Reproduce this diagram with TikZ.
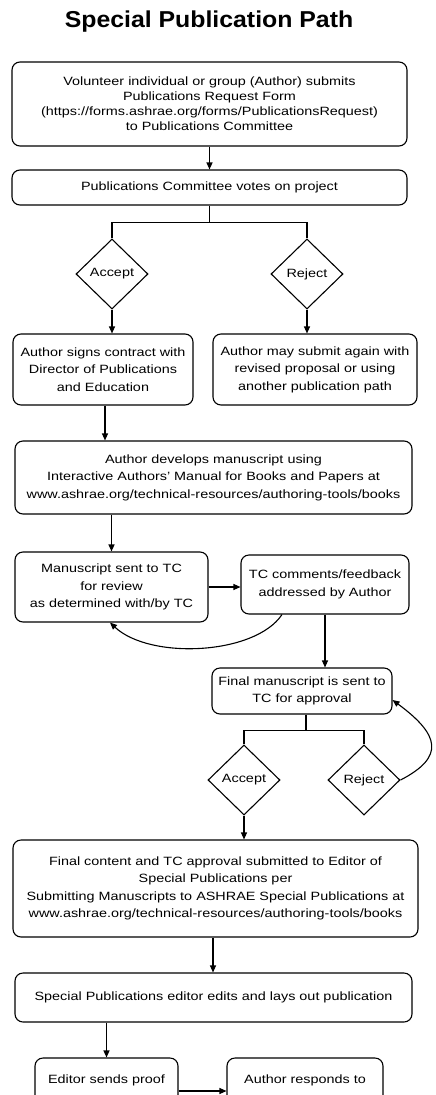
\documentclass[tikz,border=0pt]{standalone}
\usepackage{fontspec}
\setmainfont{Liberation Sans}[FakeStretch=1.2]
\newfontfamily\titlefont{Liberation Sans}[FakeStretch=1.08]
\usetikzlibrary{shapes.geometric,arrows.meta,calc}
\begin{document}
\begin{tikzpicture}[x=1pt,y=-1pt,
 box/.style={draw,rounded corners=8pt,line width=1.1pt,align=center,font=\fontsize{12}{17.5}\selectfont,inner sep=0pt},
 dec/.style={draw,diamond,line width=1.1pt,inner sep=0pt,font=\fontsize{12}{14}\selectfont,minimum width=72pt,minimum height=70pt},
 arr/.style={line width=1.1pt,-{Triangle[length=7pt,width=6pt]}},
 ln/.style={line width=1.1pt}]
\useasboundingbox (0,0) rectangle (436,1095);
\clip (0,0) rectangle (436,1095);
\fill[white] (0,0) rectangle (436,1095);
\node[font=\titlefont\bfseries\fontsize{23}{26}\selectfont] (title) at (209,22) {Special Publication Path};
\node[box,font=\fontsize{12}{15}\selectfont,minimum width=395pt,minimum height=84pt] (b1) at (209.5,104) {Volunteer individual or group (Author) submits\\Publications Request Form\\(https://forms.ashrae.org/forms/PublicationsRequest)\\to Publications Committee};
\node[box,minimum width=395pt,minimum height=35pt] (b2) at (209.5,187.5) {Publications Committee votes on project};
\node[dec] (dA1) at (112,274) {Accept};
\node[dec] (dR1) at (307,274) {Reject};
\node[box,minimum width=180pt,minimum height=71pt] (bL) at (103,369.5) {Author signs contract with\\Director of Publications\\and Education};
\node[box,minimum width=204pt,minimum height=71pt] (bR) at (315,369.5) {Author may submit again with\\revised proposal or using\\another publication path};
\node[box,minimum width=397pt,minimum height=73pt] (bDev) at (213.5,477.5) {Author develops manuscript using\\Interactive Authors' Manual for Books and Papers at\\www.ashrae.org/technical-resources/authoring-tools/books};
\node[box,minimum width=193pt,minimum height=70pt] (bMan) at (111.5,587) {Manuscript sent to TC\\for review\\as determined with/by TC};
\node[box,minimum width=168pt,minimum height=59pt] (bTC) at (325,584.5) {TC comments/feedback\\addressed by Author};
\node[box,minimum width=180pt,minimum height=46pt] (bFin) at (302,691) {Final manuscript is sent to\\TC for approval};
\node[dec] (dA2) at (244,780) {Accept};
\node[dec] (dR2) at (364,780) {Reject};
\node[box,minimum width=405pt,minimum height=97pt] (bFC) at (215.5,888.5) {Final content and TC approval submitted to Editor of\\Special Publications per\\Submitting Manuscripts to ASHRAE Special Publications at\\www.ashrae.org/technical-resources/authoring-tools/books};
\node[box,minimum width=397pt,minimum height=49pt] (bSP) at (213.5,997.5) {Special Publications editor edits and lays out publication};
\node[box,minimum width=143pt,minimum height=80pt] (bEd) at (106.5,1098) {};
\node[font=\fontsize{12}{17.5}\selectfont] (tEd) at (106.5,1080) {Editor sends proof};
\node[box,minimum width=156pt,minimum height=80pt] (bAu) at (305,1098) {};
\node[font=\fontsize{12}{17.5}\selectfont] (tAu) at (305,1080) {Author responds to};
% connectors
\draw[arr] (b1.south) -- (b2.north);
\draw[ln] (b2.south) -- ++(0,17) coordinate (j1);
\draw[ln] (dA1.north) |- (j1) -| (dR1.north);
\draw[arr] (dA1.south) -- (dA1.south |- bL.north);
\draw[arr] (dR1.south) -- (dR1.south |- bR.north);
\draw[arr] ([xshift=2pt]bL.south) -- ([xshift=2pt]bL.south |- bDev.north);
\draw[arr] (bMan.north |- bDev.south) -- (bMan.north);
\draw[arr] (bMan.east) -- (bMan.east -| bTC.west);
\draw[arr] ([xshift=-43pt]bTC.south) .. controls (255,655) and (150,660) .. ([xshift=-1.5pt]bMan.south);
\draw[arr] (bTC.south) -- (bTC.south |- bFin.north);
\draw[ln] ([xshift=4pt]bFin.south) -- ++(0,16) coordinate (j2);
\draw[ln] (dA2.north) |- (j2) -| (dR2.north);
\draw[arr] (dR2.east) .. controls (445,757) and (440,735) .. ([yshift=-9pt]bFin.east);
\draw[arr] (dA2.south) -- (dA2.south |- bFC.north);
\draw[arr] ([xshift=-2.5pt]bFC.south) -- ([xshift=-2.5pt]bFC.south |- bSP.north);
\draw[arr] (bEd.north |- bSP.south) -- (bEd.north);
\draw[arr] ([yshift=7pt]bEd.east) -- ([yshift=7pt]bAu.west);
\end{tikzpicture}
\end{document}
